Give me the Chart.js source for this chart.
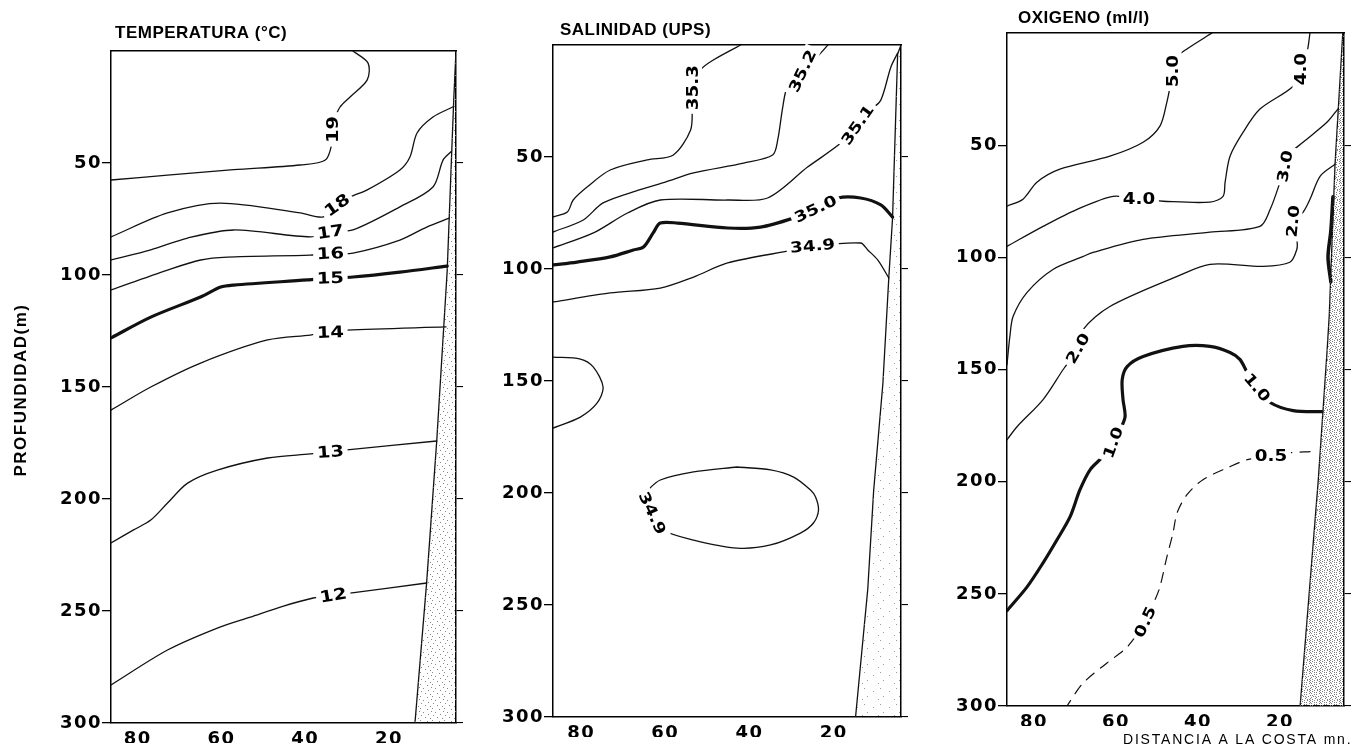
<!DOCTYPE html>
<html>
<head>
<meta charset="utf-8">
<title>Secciones de temperatura, salinidad y oxígeno</title>
<script src="https://cdn.jsdelivr.net/npm/chart.js@4.4.1/dist/chart.umd.min.js"></script>
<style>
  html, body { margin: 0; padding: 0; background: #fff; }
  #wrap { position: relative; width: 1363px; height: 750px; }
  #wrap canvas { position: absolute; left: 0; top: 0; }
</style>
</head>
<body>
<div id="wrap">
  <canvas id="temp" width="1363" height="750"></canvas>
  <canvas id="sal" width="1363" height="750"></canvas>
  <canvas id="oxi" width="1363" height="750"></canvas>
</div>
<script>
// ejes: distancia a la costa (mn) y profundidad (m)
const distTicks = [80, 60, 40, 20];
const depthTicks = [50, 100, 150, 200, 250, 300];

// ---- temperatura (°C) ---- puntos [distancia, profundidad]
const temp19 = [[28.6,0],[25.0,5.4],[25.2,12.9],[29.3,20.5],[31.7,25],[33.3,32],[33.4,35],[33.6,41],[35.2,48.7],[41.2,50.9],[57.1,53],[72.9,55.4],[86.4,57.6]];
const temp18 = [[4.8,25],[9.5,29.5],[13.3,36.6],[15.0,47.3],[17.4,53.1],[25.2,62],[29.3,65.2],[32.4,68.8],[35.7,74.1],[41.2,72.3],[60.2,67.9],[72.9,72.3],[86.4,83]];
const temp17 = [[5.2,45],[7.1,48.7],[9.5,60.7],[17.4,69.6],[28.6,79.9],[34.0,80.8],[38.8,83],[57.1,79.9],[68.1,83.5],[76.9,88.8],[86.4,93.3]];
const temp16 = [[5.6,74.6],[11.0,78.6],[17.4,84.4],[28.6,90.2],[34.0,90.4],[38.8,91.1],[58.6,92],[65.0,93.3],[72.9,97.8],[86.4,106.7]];
const temp15 = [[6.1,96],[17.4,98.7],[28.6,100.9],[34.0,101.4],[39.5,102.2],[57.1,104.5],[60.2,105.4],[65.0,109.8],[76.9,118.8],[86.4,128.1]];
const temp14 = [[6.4,123.2],[30.0,124.6],[34.0,125.6],[38.8,126.8],[49.0,129],[65.0,139.3],[76.9,150],[86.4,160.3]];
const temp13 = [[8.6,174.1],[30.0,178.1],[34.0,179],[38.8,179.9],[49.0,181.7],[61.0,187.1],[68.1,192.9],[72.9,201.8],[76.9,209.4],[81.0,213.8],[86.4,219.6]];
const temp12 = [[11.0,237.5],[29.3,242],[33.3,243],[38.1,244.2],[45.2,247.8],[53.1,252.7],[61.0,257.6],[72.9,267.4],[86.4,283]];
const tempLevels = ['19', '18', '17', '16', '15', '14', '13', '12'];
const tempLabelAt = [[33.4,35],[32.4,68.8],[34.0,80.8],[34.0,90.4],[34.0,101.4],[34.0,125.6],[34.0,179],[33.3,243]];
const tempShelf = [[4.0,0],[4.5,20],[5.0,44],[6.1,98],[8.6,174],[11.0,237],[13.8,300]];

// ---- salinidad (UPS) ----
const sal353 = [[42.1,0],[48.6,6.7],[51.7,11.2],[53.3,19],[53.6,27.7],[54.0,37.9],[58.1,49.1],[64.3,51.3],[73.1,55.8],[78.6,63.4],[81.9,69.2],[83.3,74.6],[86.7,76.8]];
const sal352 = [[21.4,0],[23.1,3.6],[27.4,11.6],[31.0,18.8],[32.1,27.7],[33.3,42.4],[34.5,49.1],[41.4,52.7],[53.3,57.1],[60.0,61.2],[66.2,64.7],[74.8,70.5],[79.5,78.1],[86.7,83.5]];
const sal351 = [[4.8,3.6],[6.4,9.8],[8.8,24.6],[11.2,29],[14.3,35.7],[18.3,43.8],[26.2,54.5],[35.7,68.3],[45.2,69.2],[61.2,69.2],[69.0,75],[77.1,83.9],[86.7,90.6]];
const sal350 = [[6.0,76.8],[8.8,71.4],[13.6,68.3],[19.0,68.3],[24.3,73.2],[29.5,77.2],[37.4,81.3],[45.2,81.7],[57.1,79.5],[61.2,79.5],[62.9,83.9],[65.2,90.2],[67.6,91.5],[73.1,94.6],[81.0,96.9],[86.7,98.2]];
const sal349a = [[6.9,104],[9.5,96],[11.9,91.5],[13.6,88.4],[25.0,89.7],[29.5,91.5],[45.2,97.3],[53.3,103.6],[61.2,108.5],[73.1,110.7],[86.7,114.7]];
const sal349b = [[86.7,139.3],[80.2,140.2],[77.1,143.8],[74.8,152.7],[76.2,159.8],[80.2,166.1],[86.7,171]];
const sal349c = [[42.9,188.4],[53.3,190.6],[61.2,194.2],[64.3,199],[66.0,203],[63.1,209],[60.5,216.5],[53.3,221],[42.9,224.6],[35.0,223.2],[27.9,217.9],[24.8,213.4],[23.6,207.6],[24.3,201.8],[25.5,198.7],[29.5,192.9],[35.0,189.7],[42.9,188.4]];
const salLevels = ['35.3', '35.2', '35.1', '35.0', '34.9', '34.9'];
const salLabelAt = [[53.3,19],[27.4,11.6],[14.3,35.7],[24.3,73.2],[25.0,89.7],[63.1,209]];
const salShelf = [[4.0,0],[4.8,4],[6.0,77],[6.9,104],[8.3,151],[10.5,199],[11.9,243],[14.8,300]];

// ---- oxígeno (ml/l) ----
const oxi50 = [[36.6,0],[42.7,7.1],[45.1,10.7],[46.1,17],[46.8,23.7],[47.6,30.8],[49.3,41.5],[53.4,48.7],[61.5,54.9],[73.7,60.7],[79.3,66.5],[82.7,74.1],[86.6,77.2]];
const oxi40 = [[12.7,0],[13.4,8.5],[14.9,16.1],[16.8,23.7],[24.9,33.9],[29.0,44.2],[32.2,54.9],[33.4,66.5],[33.9,72.8],[37.1,75.4],[48.5,75],[54.4,74.1],[60.7,72.8],[69.5,78.6],[77.8,86.2],[86.6,95.1]];
const oxi30 = [[5.9,33.9],[8.5,39.7],[14.4,48.7],[18.3,54.9],[18.8,59.4],[20.0,66.5],[22.4,78.6],[24.9,86.2],[37.1,88.8],[53.4,92],[65.6,97.8],[68.0,99.6],[75.4,105.4],[81.7,115.6],[85.1,126.3],[85.9,135.3],[86.6,147.8]];
const oxi20 = [[6.6,58.5],[10.2,63.8],[12.7,74.1],[14.4,79.9],[16.8,83.9],[15.9,92],[15.9,96.4],[17.6,102.2],[24.1,104],[37.1,103.1],[45.1,108.5],[61.5,121.9],[68.0,132.1],[69.3,140.6],[72.9,150],[77.8,163.4],[84.1,175.4],[86.6,181.3]];
const oxi10 = [[9.8,168.8],[16.8,168.3],[22.4,164.7],[25.6,158],[28.0,151.3],[29.8,145.5],[32.2,142.4],[37.1,139.7],[43.7,139.7],[53.4,144.2],[57.3,148.7],[58.5,154.5],[58.3,163.4],[57.8,171],[59.0,176.8],[60.7,182.6],[63.2,188.8],[66.3,194.6],[68.8,203.6],[71.2,215.6],[74.4,225.9],[77.8,236.2],[81.7,246.9],[86.6,257.5]];
const oxi10b = [[7.1,73],[7.6,88],[8.3,100],[7.6,111]];
const oxi05 = [[12.7,186.6],[17.6,187.1],[22.2,188.4],[28.0,190.2],[32.2,193.3],[38.8,199.1],[42.7,205.8],[45.1,213.8],[46.1,222.8],[47.6,233.5],[49.3,246.9],[50.5,252.7],[52.9,262.5],[57.3,273.7],[62.2,280.8],[68.0,289.7],[72.0,300]];
const oxiLevels = ['5.0', '4.0', '4.0', '3.0', '2.0', '2.0', '1.0', '1.0', '0.5', '0.5'];
const oxiLabelAt = [[46.1,17],[14.9,16.1],[54.4,74.1],[18.8,59.4],[16.8,83.9],[69.3,140.6],[25.6,158],[60.7,182.6],[22.2,188.4],[52.9,262.5]];
const oxiShelf = [[4.7,0],[6.6,59],[8.0,126],[8.5,141],[10.7,200],[15.1,300]];

// tramas del fondo (cada '#' es un punto)
const dotsLight = ['#...........', '.......#....', '............', '...........#', '...#........', '............', '........#...', '.#..........', '............', '.....#......', '..........#.', '............'];
const dotsFaint = ['#...............', '................', '................', '.........#......', '................', '................', '................', '................', '...#............', '................', '................', '..............#.', '................', '................', '................', '................'];
const dotsDense = ['#...#..#..', '..#......#', '#...#.#...', '.#.......#', '....#.#...', '#.#.......', '...#.#..#.', '.#....#...', '#....#....', '..#....#.#'];

function stipple(rows, color) {
  const c = document.createElement('canvas');
  c.width = rows[0].length;
  c.height = rows.length;
  const g = c.getContext('2d');
  g.fillStyle = color;
  rows.forEach((r, j) => {
    for (let i = 0; i < r.length; i++) {
      if (r[i] === '#') g.fillRect(i, j, 1, 1);
    }
  });
  return g.createPattern(c, 'repeat');
}

function toXY(pts) {
  return pts.map(p => ({ x: p[0], y: p[1] }));
}

function contour(pts, width, dash) {
  return {
    data: toXY(pts),
    showLine: true,
    borderColor: '#111',
    borderWidth: width,
    borderDash: dash || [],
    borderJoinStyle: 'round',
    borderCapStyle: 'round',
    tension: 0.3,
    pointRadius: 0,
    fill: false
  };
}

const tickFont = { family: 'DejaVu Sans', weight: 'bold', size: 18 };

// textos: títulos, rótulos de isolíneas
function panelText(p) {
  return {
    id: 'panelText',
    beforeDraw(chart) {
      chart.ctx.letterSpacing = '1.5px';
    },
    afterDraw(chart) {
      const ctx = chart.ctx;
      const xs = chart.scales.x, ys = chart.scales.y;
      ctx.save();
      ctx.fillStyle = '#000';
      ctx.letterSpacing = '0.5px';
      ctx.font = 'bold 17px "Liberation Sans", Arial, sans-serif';
      ctx.textAlign = 'left';
      ctx.textBaseline = 'alphabetic';
      ctx.fillText(p.title, p.titleAt[0], p.titleAt[1]);
      (p.extras || []).forEach(e => {
        ctx.save();
        ctx.font = e.font;
        ctx.letterSpacing = e.spacing;
        ctx.translate(e.at[0], e.at[1]);
        ctx.rotate(e.rot * Math.PI / 180);
        ctx.textAlign = e.align;
        ctx.textBaseline = 'middle';
        ctx.fillText(e.text, 0, 0);
        ctx.restore();
      });
      ctx.font = 'bold ' + p.labelSize + 'px "DejaVu Sans", sans-serif';
      ctx.letterSpacing = '0px';
      ctx.textAlign = 'center';
      ctx.textBaseline = 'middle';
      p.levels.forEach((txt, i) => {
        const px = xs.getPixelForValue(p.labelAt[i][0]);
        const py = ys.getPixelForValue(p.labelAt[i][1]);
        ctx.save();
        ctx.translate(px, py);
        ctx.rotate(p.angles[i] * Math.PI / 180);
        ctx.scale(1.22, 1);
        const w = ctx.measureText(txt).width;
        ctx.fillStyle = '#fff';
        ctx.fillRect(-w / 2 - 3, -p.labelSize / 2 - 1, w + 6, p.labelSize + 2);
        ctx.fillStyle = '#000';
        ctx.fillText(txt, 0, 1);
        ctx.restore();
      });
      ctx.restore();
    }
  };
}

function buildPanel(p) {
  const [L, T, R, B] = p.area;
  const leftW = 60, rightW = 14, bottomH = 20;
  const datasets = [];
  const poly = p.shelf.concat([[p.xMin, 300], [p.xMin, 0]]);
  datasets.push({
    data: toXY(poly), showLine: true, fill: 'shape',
    backgroundColor: p.pattern, borderWidth: 0, pointRadius: 0, tension: 0
  });
  datasets.push({
    data: toXY(p.shelf), showLine: true, fill: false,
    borderColor: '#111', borderWidth: 1.3, pointRadius: 0, tension: 0
  });
  p.lines.forEach(l => datasets.push(contour(l.pts, l.w, l.dash)));

  const frame = { display: true, color: '#000', width: 1.5 };
  const noGrid = { drawOnChartArea: false, drawTicks: false };
  const yTicks = ax => { ax.ticks = depthTicks.map(v => ({ value: v })); };

  new Chart(document.getElementById(p.id), {
    type: 'scatter',
    data: { datasets },
    options: {
      responsive: false,
      animation: false,
      devicePixelRatio: 1,
      events: [],
      layout: { padding: { left: L - leftW, top: T, right: 1363 - R - rightW, bottom: 750 - B - bottomH } },
      plugins: { legend: { display: false }, tooltip: { enabled: false } },
      scales: {
        x: {
          type: 'linear', position: 'bottom', reverse: true, min: p.xMin, max: p.xMax,
          afterBuildTicks: ax => { ax.ticks = distTicks.map(v => ({ value: v })); },
          afterFit: ax => { ax.height = bottomH; },
          grid: noGrid, border: frame,
          ticks: { color: '#000', font: tickFont, padding: 6, autoSkip: false, maxRotation: 0 }
        },
        xTop: {
          type: 'linear', position: 'top', reverse: true, min: p.xMin, max: p.xMax,
          afterFit: ax => { ax.height = 0; },
          grid: noGrid, border: frame, ticks: { display: false }
        },
        y: {
          type: 'linear', position: 'left', reverse: true, min: 0, max: 300,
          afterBuildTicks: yTicks,
          afterFit: ax => { ax.width = leftW; },
          grid: { drawOnChartArea: false, drawTicks: true, tickLength: 9, color: '#000', lineWidth: 1.3 },
          border: frame,
          ticks: { color: '#000', font: tickFont, padding: 0, autoSkip: false }
        },
        yRight: {
          type: 'linear', position: 'right', reverse: true, min: 0, max: 300,
          afterBuildTicks: yTicks,
          afterFit: ax => { ax.width = rightW; },
          grid: { drawOnChartArea: false, drawTicks: true, tickLength: 7, color: '#000', lineWidth: 1.1 },
          border: frame,
          ticks: { display: false }
        }
      }
    },
    plugins: [panelText(p)]
  });
}

buildPanel({
  id: 'temp', area: [111, 51, 456, 723], xMin: 4.0, xMax: 86.4,
  title: 'TEMPERATURA (°C)', titleAt: [115, 38],
  extras: [{ text: 'PROFUNDIDAD(m)', at: [21, 390], rot: -90, align: 'center',
             font: 'bold 17px "Liberation Sans", Arial, sans-serif', spacing: '1.5px' }],
  shelf: tempShelf, pattern: stipple(dotsLight, '#888'),
  lines: [
    { pts: temp19, w: 1.3 }, { pts: temp18, w: 1.3 }, { pts: temp17, w: 1.3 }, { pts: temp16, w: 1.3 },
    { pts: temp15, w: 3.2 }, { pts: temp14, w: 1.3 }, { pts: temp13, w: 1.3 }, { pts: temp12, w: 1.3 }
  ],
  levels: tempLevels, labelAt: tempLabelAt, labelSize: 16,
  angles: [-90, -35, -8, -3, -2, -2, -4, -10]
});

buildPanel({
  id: 'sal', area: [553, 45, 901, 717], xMin: 4.0, xMax: 86.7,
  title: 'SALINIDAD (UPS)', titleAt: [560, 35],
  shelf: salShelf, pattern: stipple(dotsFaint, '#999'),
  lines: [
    { pts: sal353, w: 1.3 }, { pts: sal352, w: 1.3 }, { pts: sal351, w: 1.3 }, { pts: sal350, w: 3.2 },
    { pts: sal349a, w: 1.3 }, { pts: sal349b, w: 1.3 }, { pts: sal349c, w: 1.3 }
  ],
  levels: salLevels, labelAt: salLabelAt, labelSize: 15,
  angles: [-90, -65, -55, -25, -5, 65]
});

buildPanel({
  id: 'oxi', area: [1007, 33, 1344, 706], xMin: 4.4, xMax: 86.6,
  title: 'OXIGENO (ml/l)', titleAt: [1018, 23],
  extras: [{ text: 'DISTANCIA A LA COSTA mn.', at: [1123, 740], rot: 0, align: 'left',
             font: '14px "Liberation Sans", Arial, sans-serif', spacing: '1.8px' }],
  shelf: oxiShelf, pattern: stipple(dotsDense, '#808080'),
  lines: [
    { pts: oxi50, w: 1.3 }, { pts: oxi40, w: 1.3 }, { pts: oxi30, w: 1.3 }, { pts: oxi20, w: 1.3 },
    { pts: oxi10, w: 3.2 }, { pts: oxi10b, w: 3.5 }, { pts: oxi05, w: 1.2, dash: [10, 8] }
  ],
  levels: oxiLevels, labelAt: oxiLabelAt, labelSize: 15,
  angles: [-90, -90, 0, -80, -85, -60, 50, -70, 0, -65]
});
</script>
</body>
</html>
